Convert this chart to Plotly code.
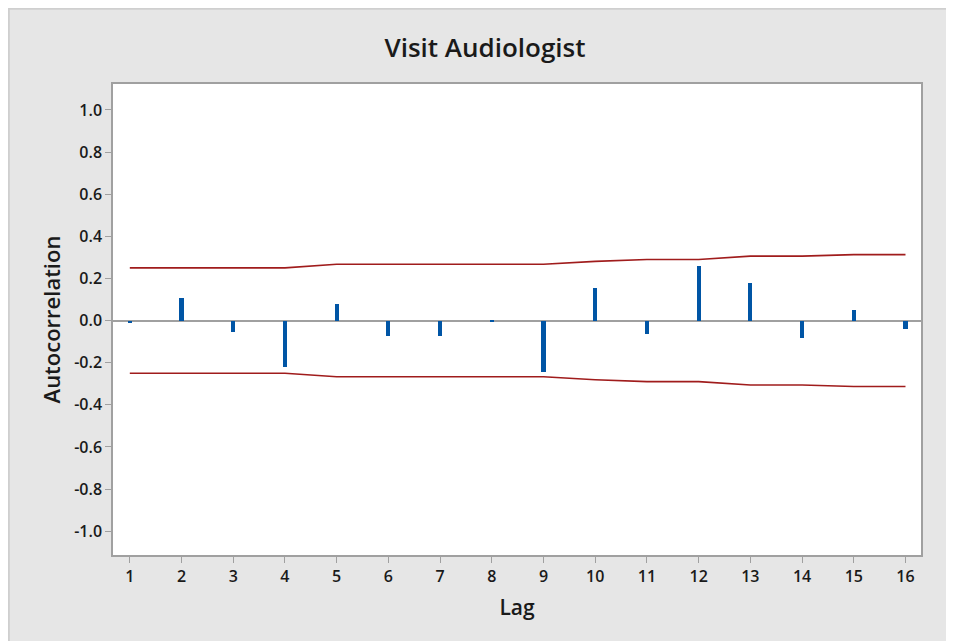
import plotly.graph_objects as go

lags = list(range(1, 17))
acf = [-0.01, 0.106, -0.055, -0.221, 0.078, -0.071, -0.071, -0.008,
       -0.245, 0.154, -0.065, 0.258, 0.179, -0.081, 0.052, -0.041]
upper = [0.250, 0.250, 0.250, 0.250, 0.267, 0.267, 0.267, 0.267,
         0.267, 0.281, 0.290, 0.290, 0.306, 0.306, 0.313, 0.313]
lower = [-0.250, -0.250, -0.250, -0.250, -0.267, -0.267, -0.267, -0.267,
         -0.267, -0.281, -0.290, -0.290, -0.306, -0.306, -0.313, -0.313]
ytickvals = [1.0, 0.8, 0.6, 0.4, 0.2, 0.0, -0.2, -0.4, -0.6, -0.8, -1.0]
yticktext = ["1.0", "0.8", "0.6", "0.4", "0.2", "0.0", "-0.2", "-0.4", "-0.6", "-0.8", "-1.0"]

FONT = "Open Sans"
RED = "#a01c1c"
BLUE = "#0055a5"
GRID = "#a0a0a0"
TXT = "#1a1a1a"

fig = go.Figure()
fig.add_trace(go.Scatter(x=lags, y=upper, mode="lines",
                         line=dict(color=RED, width=1.6), hoverinfo="skip"))
fig.add_trace(go.Scatter(x=lags, y=lower, mode="lines",
                         line=dict(color=RED, width=1.6), hoverinfo="skip"))
fig.add_trace(go.Bar(x=lags, y=acf, base=0, width=0.08,
                     marker=dict(color=BLUE, line=dict(width=0))))

# page body margin (8px) provides the light outer strip
W, H = 946, 633
L, T = 105, 76
R = W - 913
B = H - 547
pw, ph = W - L - R, H - T - B


def px_x(p):
    return (p - L) / pw


def px_y(p):
    return (H - B - p) / ph


shapes = [
    dict(type="line", xref="paper", yref="paper", layer="below",
         x0=px_x(0), x1=px_x(W), y0=px_y(0.8), y1=px_y(0.8),
         line=dict(color="#cfcfcf", width=2)),
    dict(type="line", xref="paper", yref="paper", layer="below",
         x0=px_x(0.8), x1=px_x(0.8), y0=px_y(H), y1=px_y(0),
         line=dict(color="#cfcfcf", width=2)),
]

fig.update_layout(
    width=W, height=H,
    margin=dict(l=L, r=R, t=T, b=B),
    paper_bgcolor="#e6e6e6",
    plot_bgcolor="white",
    showlegend=False,
    bargap=0,
    shapes=shapes,
    title=dict(text="Visit Audiologist", x=477 / W, xanchor="center",
               y=1 - 40 / H, yanchor="middle",
               font=dict(family=FONT, size=26, color=TXT, weight=600)),
    font=dict(family=FONT, color=TXT),
    xaxis=dict(range=[0.675, 16.30], tickvals=lags, ticks="outside",
               ticklen=6, tickcolor=GRID, tickwidth=1.3,
               showline=True, linecolor=GRID, linewidth=1.5, mirror=True,
               showgrid=False, zeroline=False,
               tickfont=dict(family=FONT, size=16, weight=600, color=TXT),
               title=dict(text="Lag", standoff=14,
                          font=dict(family=FONT, size=21, weight=600, color=TXT))),
    yaxis=dict(range=[-1.113, 1.123], tickvals=ytickvals, ticktext=yticktext,
               ticks="outside", ticklen=6, tickcolor=GRID, tickwidth=1.3,
               showline=True, linecolor=GRID, linewidth=1.5, mirror=True,
               showgrid=False, zeroline=True, zerolinecolor=GRID, zerolinewidth=1.6,
               tickfont=dict(family=FONT, size=16, weight=600, color=TXT),
               title=dict(text="Autocorrelation", standoff=8,
                          font=dict(family=FONT, size=22, weight=600, color=TXT))),
)

fig.write_html(
    "out.html",
    post_script=(
        "document.documentElement.style.overflow='hidden';"
        "document.body.style.overflow='hidden';"
    ),
)
